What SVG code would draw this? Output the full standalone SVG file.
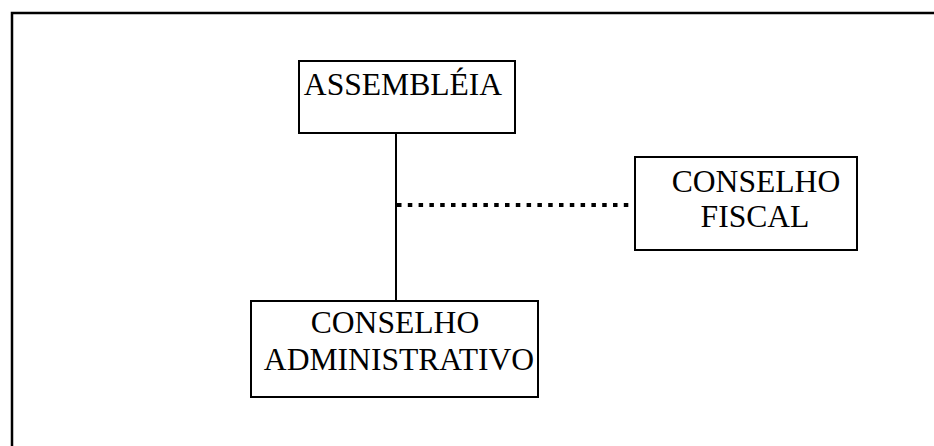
<svg xmlns="http://www.w3.org/2000/svg" width="934" height="446" viewBox="0 0 934 446">
<style>
.box{fill:#fff;stroke:#000;stroke-width:2}
.t{font-family:"Liberation Serif","Times New Roman",serif;font-size:31.6px;fill:#000;text-anchor:middle}
.c{stroke:#000;fill:none}
</style>
<rect x="0" y="0" width="934" height="446" fill="#fff"/>
<rect x="12" y="13" width="940" height="450" fill="none" stroke="#000" stroke-width="2.5"/>
<g id="connectors">
<line class="c" x1="396" y1="133" x2="396" y2="301" stroke-width="2"/>
<line class="c" x1="397" y1="205" x2="635" y2="205" stroke-width="4" stroke-dasharray="4.5 6.3"/>
</g>
<g id="assembleia">
<rect class="box" x="299" y="61" width="216" height="72"/>
<text class="t" x="403" y="95">ASSEMBLÉIA</text>
</g>
<g id="conselho-fiscal">
<rect class="box" x="635" y="157" width="222" height="93"/>
<text class="t" x="756" y="192">CONSELHO</text>
<text class="t" x="755" y="227">FISCAL</text>
</g>
<g id="conselho-administrativo">
<rect class="box" x="251" y="301" width="287" height="96"/>
<text class="t" x="395" y="333">CONSELHO</text>
<text class="t" x="399" y="370">ADMINISTRATIVO</text>
</g>
</svg>
